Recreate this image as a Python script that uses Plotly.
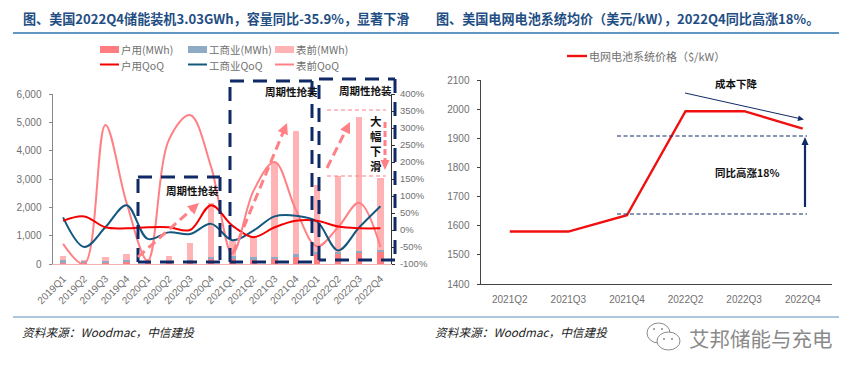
import math
import plotly.graph_objects as go

W, H = 861, 375
FONT = "Noto Sans CJK SC"
NUM = "Liberation Sans"

quarters = ["2019Q1","2019Q2","2019Q3","2019Q4","2020Q1","2020Q2","2020Q3","2020Q4",
            "2021Q1","2021Q2","2021Q3","2021Q4","2022Q1","2022Q2","2022Q3","2022Q4"]
home_mwh = [60,50,60,60,50,50,60,180,200,170,180,250,340,370,400,420]
commercial_mwh = [70,70,60,90,60,60,70,80,70,60,80,100,100,70,60,90]
front_mwh = [170,20,130,200,70,190,620,1890,530,770,3290,4350,2360,2660,4740,2520]
home_qoq = [27,40,8,5,8,8,0,73,13,-21,8,27,27,10,5,5]
commercial_qoq = [37,-50,8,73,-26,-7,-12,18,-30,-2,40,42,25,-60,8,70]
front_qoq = [-41,-100,309,80,-90,265,338,185,-70,115,200,60,-48,8,80,-50]
left_ticks = [0,1000,2000,3000,4000,5000,6000]
qoq_ticks = [-100,-50,0,50,100,150,200,250,300,350,400]

price_quarters = ["2021Q2","2021Q3","2021Q4","2022Q2","2022Q3","2022Q4"]
price_values = [1580,1580,1636,1993,1993,1933]
price_ticks = [1400,1500,1600,1700,1800,1900,2000,2100]

def px(x): return x / W
def py(y): return 1 - y / H

NAVY = "#0F2A66"
PINK = "#FF8085"
TITLE = "#1F4E84"
GREY = "#707070"

fig = go.Figure()
for name, vals, col in [("户用(MWh)", home_mwh, "#FF7C80"),
                        ("工商业(MWh)", commercial_mwh, "#8FAAC4"),
                        ("表前(MWh)", front_mwh, "#FFB3B5")]:
    fig.add_bar(x=quarters, y=vals, name=name, marker_color=col, marker_line_width=0,
                xaxis="x", yaxis="y", showlegend=False)
for name, vals, col in [("表前QoQ", front_qoq, PINK),
                        ("工商业QoQ", commercial_qoq, "#14587F"),
                        ("户用QoQ", home_qoq, "#F40000")]:
    fig.add_scatter(x=quarters, y=vals, name=name, mode="lines", xaxis="x", yaxis="y2",
                    line=dict(color=col, width=2, shape="spline", smoothing=1.0), showlegend=False)
fig.add_scatter(x=price_quarters, y=price_values, name="电网电池系统价格（$/kW）", mode="lines",
                xaxis="x2", yaxis="y3", line=dict(color="#F01010", width=2.4), showlegend=False)

shapes, annos = [], []

def line(x0, y0, x1, y1, color, width=1, dash="solid"):
    shapes.append(dict(type="line", xref="paper", yref="paper", x0=px(x0), y0=py(y0), x1=px(x1), y1=py(y1),
                       line=dict(color=color, width=width, dash=dash)))

def rect(x0, y0, x1, y1, fill, color=None):
    shapes.append(dict(type="rect", xref="paper", yref="paper", x0=px(x0), y0=py(y0), x1=px(x1), y1=py(y1),
                       fillcolor=fill, line=dict(width=0)))

def head(x0, y0, x1, y1, color, size=9, half=4.5):
    a = math.atan2(y1 - y0, x1 - x0)
    bx, by = x1 - size * math.cos(a), y1 - size * math.sin(a)
    nx, ny = -math.sin(a) * half, math.cos(a) * half
    pts = [(x1, y1), (bx + nx, by + ny), (bx - nx, by - ny)]
    path = "M" + " L".join(f"{px(p[0]):.5f},{py(p[1]):.5f}" for p in pts) + " Z"
    shapes.append(dict(type="path", xref="paper", yref="paper", path=path, fillcolor=color, line=dict(width=0)))

def arrow(x0, y0, x1, y1, color, width, dash="solid", size=9, half=4.5):
    a = math.atan2(y1 - y0, x1 - x0)
    line(x0, y0, x1 - size * math.cos(a) * 0.8, y1 - size * math.sin(a) * 0.8, color, width, dash)
    head(x0, y0, x1, y1, color, size, half)

def text(x, y, s, size=11, color="#222222", family=FONT, anchor="center"):
    annos.append(dict(xref="paper", yref="paper", x=px(x), y=py(y), text=s, showarrow=False,
                      xanchor=anchor, yanchor="middle", font=dict(size=size, color=color, family=family)))

# titles and rules
text(21, 18, "<b>图、美国2022Q4储能装机3.03GWh，容量同比-35.9%，显著下滑</b>", 13.1, TITLE, anchor="left")
text(434, 18, "<b>图、美国电网电池系统均价（美元/kW），2022Q4同比高涨18%。</b>", 13.1, TITLE, anchor="left")
line(13, 33, 839, 33, "#2E75B0", 1.5)
line(13, 317, 839, 317, "#5B8DB8", 1)
text(20, 331, "<i>资料来源：Woodmac，中信建投</i>", 11.7, "#222222", anchor="left")
text(433, 331, "<i>资料来源：Woodmac，中信建投</i>", 11.7, "#222222", anchor="left")

# left legend
for x0, y, label, col in [(100, 49.5, "户用(MWh)", "#FF7C80"), (188, 49.5, "工商业(MWh)", "#8FAAC4"), (275, 49.5, "表前(MWh)", "#FFB3B5")]:
    rect(x0, y - 3.5, x0 + 19, y + 3.5, col)
    text(x0 + 19, y + 0.5, label, 10.5, GREY, anchor="left")
for x0, y, label, col in [(100, 64.5, "户用QoQ", "#F40000"), (188, 64.5, "工商业QoQ", "#14587F"), (275, 64.5, "表前QoQ", PINK)]:
    line(x0, y, x0 + 19, y, col, 2)
    text(x0 + 19, y + 0.5, label, 10.5, GREY, anchor="left")

# dashed boxes
BD = "14px,9px"
for x0, y0, x1, y1 in [(138, 177, 220, 262), (230, 81, 312, 262), (319, 79, 395, 260)]:
    line(x0, y1, x0, y0, NAVY, 3, BD)
    line(x0, y0, x1, y0, NAVY, 3, BD)
    line(x1, y0, x1, y1, NAVY, 3, BD)
    line(x1, y1, x0, y1, NAVY, 3, BD)

# pink guide lines and dashed arrows
line(327, 110, 386, 110, PINK, 1.2, "4px,3px")
line(327, 176, 386, 176, PINK, 1.2, "4px,3px")
AD = "9px,5px"
arrow(138, 257, 199, 203, PINK, 3, AD, 11, 5.5)
arrow(233, 253, 287, 123, PINK, 3, AD, 11, 5.5)
arrow(327, 168, 350, 122, PINK, 3, AD, 11, 5.5)
arrow(385, 122, 385, 170, PINK, 3, "6px,3px", 10, 4.5)

text(192, 190, "<b>周期性抢装</b>", 10.5, "#111111")
text(291, 92, "<b>周期性抢装</b>", 10.5, "#111111")
text(365, 90, "<b>周期性抢装</b>", 10.5, "#111111")
text(376, 143, "<b>大<br>幅<br>下<br>滑</b>", 11.5, "#111111")

# right legend
line(567, 56, 587, 56, "#F01010", 2.4)
text(587, 56, "电网电池系统价格（$/kW）", 11, GREY, anchor="left")

# right annotations
text(736, 84, "<b>成本下降</b>", 10.5, "#111111")
text(747, 172, "<b>同比高涨18%</b>", 10.5, "#111111")
arrow(685, 93, 804, 119.5, NAVY, 1, "solid", 6, 2.8)
line(617, 136, 807, 136, NAVY, 1.2, "4px,2.5px")
line(617, 214, 807, 214, NAVY, 1.2, "4px,2.5px")
arrow(805, 207, 805, 137, NAVY, 2.2, "solid", 8, 3.5)

# watermark
for x0, y0, x1, y1 in [(647, 323, 670, 343), (657, 332, 680, 350)]:
    shapes.append(dict(type="circle", xref="paper", yref="paper", x0=px(x0), y0=py(y0), x1=px(x1), y1=py(y1),
                       fillcolor="white", line=dict(color="#8A8A8A", width=1)))
for cx, cy in [(654, 329), (662, 329), (664, 339), (672, 339)]:
    shapes.append(dict(type="circle", xref="paper", yref="paper", x0=px(cx - 1), y0=py(cy - 1), x1=px(cx + 1), y1=py(cy + 1),
                       fillcolor="#8A8A8A", line=dict(width=0)))
text(687, 338, "艾邦储能与充电", 20.5, "#8A8A8A", anchor="left")

tick = dict(size=10, color=GREY, family=NUM)
fig.update_layout(
    width=W, height=H, autosize=False, margin=dict(l=0, r=0, t=0, b=0, autoexpand=False),
    paper_bgcolor="white", plot_bgcolor="rgba(0,0,0,0)", barmode="stack", bargap=0.7,
    showlegend=False, shapes=shapes, annotations=annos, font=dict(family=FONT),
    xaxis=dict(domain=[px(52.5), px(391)], anchor="y", type="category", categoryorder="array", categoryarray=quarters,
               range=[-0.5, 15.5], tickangle=-45, tickfont=tick, showgrid=False, ticks="", showline=True,
               linecolor="#F3B0B0", linewidth=1, ticklabelstandoff=4, automargin=False),
    yaxis=dict(domain=[py(264), py(94)], anchor="x", range=[0, 6000], tickvals=left_ticks, tickformat=",d",
               tickfont=tick, showgrid=False, zeroline=False, ticks="outside", ticklen=3, tickcolor="#888888",
               showline=True, linecolor="#888888", linewidth=1, ticklabelstandoff=5, automargin=False),
    yaxis2=dict(domain=[py(264), py(94)], anchor="x", overlaying="y", side="right", range=[-100, 400],
                tickmode="array", tickvals=qoq_ticks, ticktext=[f"{v}%" for v in qoq_ticks],
                tickfont=dict(size=9.5, color=GREY, family=NUM),
                showgrid=False, zeroline=False, ticks="outside",
                ticklen=3, tickcolor="#333333", showline=True, linecolor="#333333", linewidth=1, ticklabelstandoff=3,
                automargin=False),
    xaxis2=dict(domain=[px(480.5), px(832)], anchor="y3", type="category", categoryorder="array",
                categoryarray=price_quarters, range=[-0.5, 5.5], tickfont=tick, showgrid=False, ticks="", showline=True,
                linecolor="#444444", linewidth=1, ticklabelstandoff=6, automargin=False),
    yaxis3=dict(domain=[py(284), py(80)], anchor="x2", range=[1400, 2100], tickvals=price_ticks, tickfont=tick,
                showgrid=False, zeroline=False, ticks="outside", ticklen=3, tickcolor="#444444", showline=True,
                linecolor="#444444", linewidth=1, ticklabelstandoff=5, automargin=False),
)
fig.write_html("out.html", config=dict(displayModeBar=False),
               post_script="document.body.style.margin='0';")
